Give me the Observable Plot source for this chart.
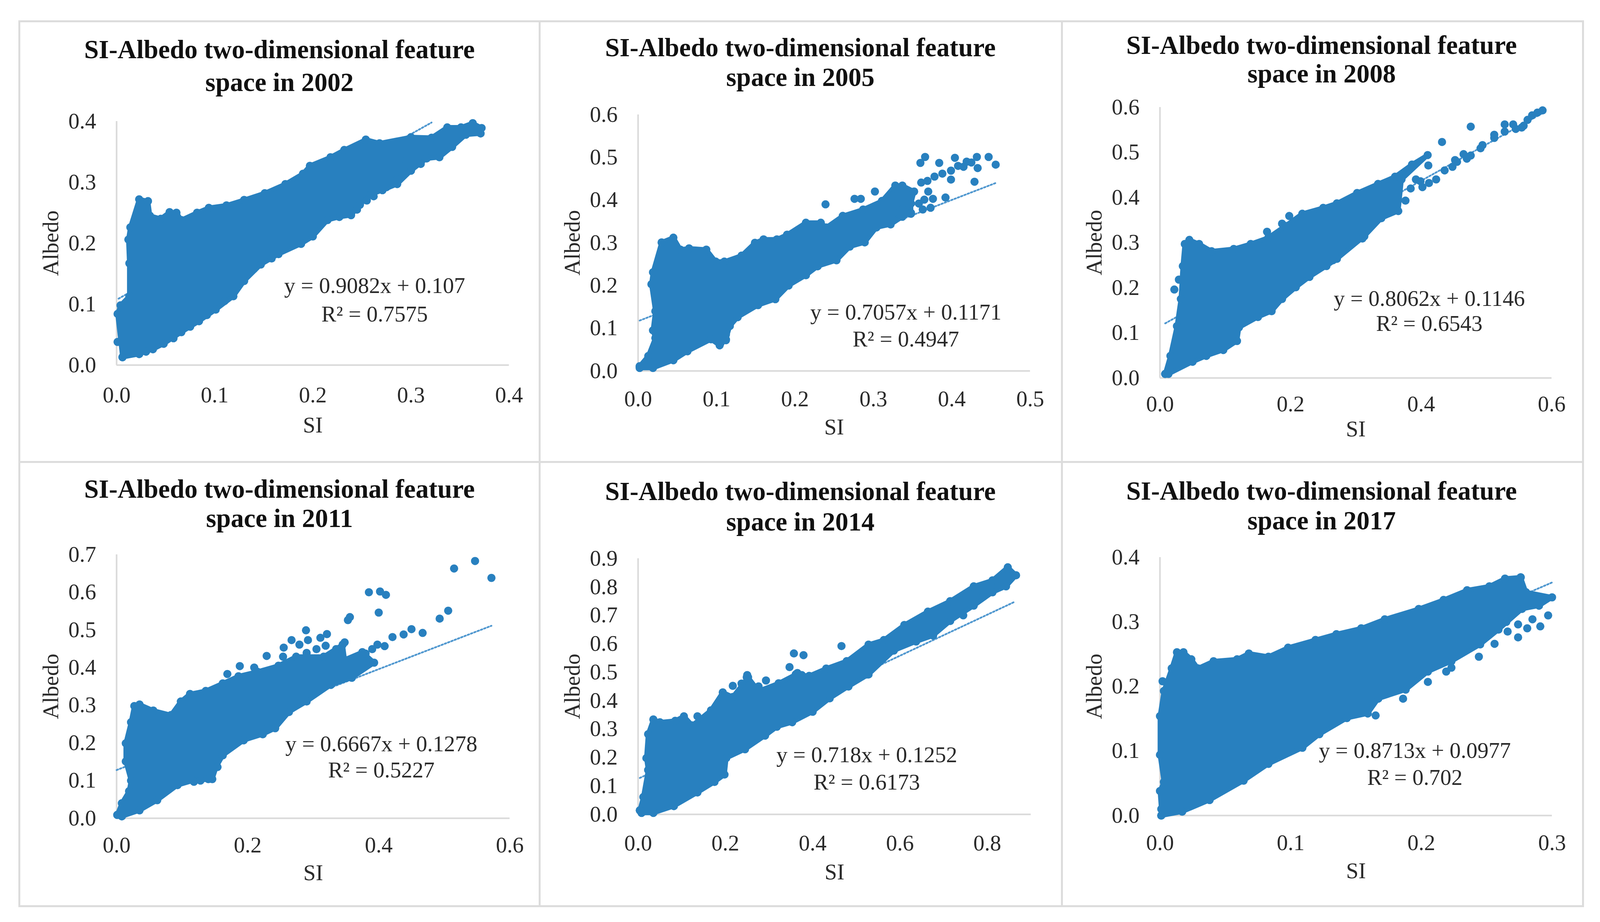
<!DOCTYPE html>
<html>
<head>
<meta charset="utf-8">
<script src="https://cdn.jsdelivr.net/npm/d3@7"></script>
<script src="https://cdn.jsdelivr.net/npm/@observablehq/plot@0.6"></script>
<style>
html,body{margin:0;padding:0;background:#fff;overflow:hidden;}
#page{position:relative;width:100vw;height:2360px;overflow:hidden;background:#fff;font-family:"Liberation Serif",serif;}
.frame{position:absolute;background:#dcdcdc;}
.title{position:absolute;transform:translateX(-50%);text-align:center;font-weight:bold;color:#111;white-space:nowrap;}
.panel{position:absolute;}
</style>
</head>
<body>
<div id="page"></div>
<script>
// ---------- Cloud outlines (SI, Albedo) and separate points ----------
const years = [2002, 2005, 2008, 2011, 2014, 2017];
const equations = ["y = 0.9082x + 0.107","y = 0.7057x + 0.1171","y = 0.8062x + 0.1146","y = 0.6667x + 0.1278","y = 0.718x + 0.1252","y = 0.8713x + 0.0977"];
const rSquared = ["R² = 0.7575","R² = 0.4947","R² = 0.6543","R² = 0.5227","R² = 0.6173","R² = 0.702"];

const si2002 = [.006,.001,.004,.013,.013,.012,.014,.023,.032,.034,.045,.054,.061,.066,.082,.094,.112,.13,.151,.172,.19,.197,.218,.232,.254,.268,.3,.321,.337,.351,.363,.372,.371,.356,.342,.329,.316,.3,.286,.271,.259,.248,.239,.227,.215,.2,.188,.165,.147,.13,.119,.101,.084,.066,.048,.037,.023,.006];
const albedo2002 = [.013,.084,.098,.113,.167,.206,.226,.272,.269,.245,.24,.251,.25,.238,.25,.258,.262,.271,.282,.297,.314,.327,.341,.353,.37,.364,.374,.373,.39,.39,.397,.389,.38,.378,.358,.341,.339,.319,.297,.287,.28,.263,.246,.243,.238,.211,.199,.182,.165,.138,.113,.091,.072,.054,.035,.026,.018,.013];
const outSi2002 = [.001,.3,.293,.286,.275,.188,.255,.245,.262,.31,.295,.158,.14,.11,.092,.075,.058,.03];
const outAlbedo2002 = [.038,.319,.313,.305,.292,.199,.27,.255,.277,.33,.335,.175,.158,.105,.082,.063,.044,.022];
const trendSi2002 = [.002,.321];
const trendAlbedo2002 = [.109,.398];

const si2005 = [.002,.013,.022,.019,.022,.017,.019,.03,.045,.054,.065,.087,.099,.11,.132,.149,.16,.177,.19,.214,.233,.24,.261,.287,.311,.328,.337,.352,.348,.348,.337,.322,.304,.289,.27,.253,.229,.214,.192,.175,.153,.127,.117,.112,.104,.093,.063,.045,.019,.002];
const albedo2005 = [.011,.035,.077,.095,.14,.203,.231,.301,.312,.284,.287,.284,.256,.256,.27,.3,.308,.308,.319,.347,.347,.336,.363,.378,.398,.434,.434,.42,.392,.37,.361,.343,.336,.301,.291,.259,.245,.224,.2,.168,.154,.126,.105,.074,.06,.074,.046,.025,.007,.007];
const outSi2005 = [.239,.276,.284,.302,.361,.369,.378,.388,.399,.408,.419,.432,.447,.456,.404,.384,.366,.36,.433,.429,.392,.376,.365,.358,.373,.363,.348,.37,.399,.324,.337,.326,.105,.112,.112,.415,.425];
const outAlbedo2005 = [.39,.403,.403,.42,.441,.445,.455,.462,.469,.48,.49,.501,.501,.483,.499,.487,.501,.487,.475,.443,.406,.403,.401,.392,.382,.378,.368,.42,.448,.41,.378,.371,.065,.072,.085,.478,.488];
const trendSi2005 = [.002,.456];
const trendAlbedo2005 = [.118,.44];

const si2008 = [.008,.016,.026,.032,.035,.038,.045,.06,.079,.113,.139,.166,.192,.218,.25,.271,.302,.334,.36,.386,.41,.37,.365,.339,.313,.271,.255,.229,.208,.187,.171,.15,.121,.118,.097,.071,.05,.013];
const albedo2008 = [.009,.049,.115,.175,.248,.297,.306,.297,.281,.286,.297,.311,.337,.364,.377,.387,.41,.43,.446,.473,.494,.44,.37,.354,.314,.264,.248,.224,.201,.175,.148,.135,.112,.082,.062,.049,.036,.009];
const outSi2008 = [.376,.402,.423,.436,.455,.47,.491,.512,.528,.557,.57,.586,.476,.432,.411,.022,.029,.164,.187,.198,.31,.265,.528,.541,.554,.512,.494,.476,.465,.452,.392,.399,.384,.578,.563,.545,.448,.412];
const outAlbedo2008 = [.393,.423,.44,.46,.479,.486,.509,.532,.546,.559,.582,.593,.557,.523,.471,.196,.218,.324,.342,.359,.309,.261,.562,.562,.555,.539,.516,.493,.496,.483,.44,.436,.42,.588,.572,.552,.468,.432];
const trendSi2008 = [.008,.586];
const trendAlbedo2008 = [.121,.587];

const si2011 = [.001,.008,.019,.022,.014,.014,.022,.027,.035,.056,.083,.098,.112,.136,.162,.186,.215,.247,.274,.316,.345,.348,.375,.393,.359,.327,.29,.263,.242,.223,.194,.162,.152,.146,.117,.093,.062,.035,.008];
const albedo2011 = [.009,.04,.072,.1,.151,.199,.255,.298,.302,.286,.274,.31,.33,.338,.358,.377,.389,.405,.429,.429,.461,.421,.441,.413,.373,.354,.31,.282,.239,.223,.207,.167,.136,.104,.1,.088,.048,.021,.005];
const outSi2011 = [.547,.515,.572,.385,.402,.411,.4,.356,.353,.506,.493,.467,.45,.438,.421,.409,.398,.39,.38,.289,.321,.311,.292,.267,.255,.279,.319,.348,.335,.305,.29,.254,.229,.188,.169,.21,.231,.223,.154,.118,.128,.14];
const outAlbedo2011 = [.683,.663,.638,.6,.602,.593,.546,.534,.526,.551,.53,.492,.502,.488,.481,.457,.461,.449,.437,.499,.489,.479,.473,.473,.453,.461,.458,.467,.449,.449,.439,.429,.431,.404,.383,.4,.239,.224,.136,.097,.1,.104];
const trendSi2011 = [0,.572];
const trendAlbedo2011 = [.128,.511];

const si2014 = [.004,.012,.023,.019,.023,.035,.05,.085,.105,.124,.167,.194,.217,.252,.276,.322,.361,.392,.431,.478,.528,.563,.61,.664,.715,.769,.812,.847,.866,.843,.812,.769,.715,.676,.637,.586,.528,.482,.439,.4,.353,.318,.291,.245,.202,.198,.175,.136,.082,.035,.008];
const albedo2014 = [.014,.061,.156,.198,.282,.334,.324,.329,.345,.313,.366,.429,.413,.482,.434,.461,.492,.487,.513,.539,.597,.613,.666,.713,.75,.802,.823,.869,.841,.802,.781,.734,.68,.629,.608,.576,.492,.45,.408,.361,.324,.308,.277,.229,.198,.14,.114,.077,.029,.005,.005];
const outSi2014 = [.466,.357,.379,.347,.365,.293,.276,.249,.217,.136,.439,.524,.482,.375,.25,.237,.745,.79];
const outAlbedo2014 = [.592,.566,.56,.518,.497,.471,.45,.482,.452,.345,.419,.492,.45,.49,.49,.46,.7,.765];
const trendSi2014 = [.004,.862];
const trendAlbedo2014 = [.128,.747];

const si2017 = [.001,.001,0,.003,0,0,.003,.009,.013,.018,.024,.029,.041,.059,.068,.083,.098,.119,.135,.154,.172,.198,.217,.235,.252,.264,.276,.28,.3,.29,.277,.259,.245,.223,.205,.188,.167,.159,.143,.122,.109,.083,.064,.038,.017];
const albedo2017 = [0,.01,.038,.052,.094,.154,.193,.228,.253,.253,.242,.228,.239,.242,.251,.246,.26,.272,.281,.29,.304,.32,.334,.349,.355,.367,.369,.346,.338,.325,.32,.288,.265,.239,.223,.195,.181,.158,.151,.126,.105,.08,.054,.024,.006];
const outSi2017 = [.002,.165,.186,.205,.219,.223,.244,.256,.266,.274,.274,.281,.285,.291,.297,.276,.265];
const outAlbedo2017 = [.208,.155,.181,.207,.223,.229,.246,.266,.285,.276,.296,.29,.304,.293,.31,.369,.3];
const trendSi2017 = [0,.3];
const trendAlbedo2017 = [.098,.361];

// ---------- Axis tick values and domains ----------
const xTicks = [[0,.1,.2,.3,.4],[0,.1,.2,.3,.4,.5],[0,.2,.4,.6],[0,.2,.4,.6],[0,.2,.4,.6,.8],[0,.1,.2,.3]];
const yTicks = [[0,.1,.2,.3,.4],[0,.1,.2,.3,.4,.5,.6],[0,.1,.2,.3,.4,.5,.6],[0,.1,.2,.3,.4,.5,.6,.7],[0,.1,.2,.3,.4,.5,.6,.7,.8,.9],[0,.1,.2,.3,.4]];
const xMax = [.4,.5,.6,.6,.9,.3];
const yMax = [.4,.6,.6,.7,.9,.4];

// Equation label anchors, in data units
const eqSi = [.263,.3415,.4125,.404,.524,.195];
const eqAlbedo = [.11,.1085,.15,.165,.166,.082];

// ---------- Layout of each panel. The reference is 4460 wide; the capture is narrower, so x is fitted to it ----------
const K = Math.min(1, window.innerWidth / 4460);
const layout = [
  {x0:324, x1:1418,y0:934, y1:310, tickX:55,labelX:153,titleX:779, titleY:84,  pitch:84, eqLead:73},
  {x0:1778,x1:2871,y0:949, y1:293, tickX:50,labelX:143,titleX:2231,titleY:83,  pitch:76, eqLead:69},
  {x0:3233,x1:4325,y0:967, y1:274, tickX:45,labelX:130,titleX:3684,titleY:79,  pitch:73, eqLead:64},
  {x0:324, x1:1420,y0:2094,y1:1419,tickX:47,labelX:139,titleX:779, titleY:1214,pitch:75, eqLead:67},
  {x0:1778,x1:2873,y0:2084,y1:1429,tickX:52,labelX:147,titleX:2231,titleY:1218,pitch:78, eqLead:70},
  {x0:3233,x1:4326,y0:2087,y1:1426,tickX:48,labelX:141,titleX:3684,titleY:1218,pitch:76, eqLead:69}
];

const series = [
  [si2002,albedo2002,outSi2002,outAlbedo2002,trendSi2002,trendAlbedo2002],
  [si2005,albedo2005,outSi2005,outAlbedo2005,trendSi2005,trendAlbedo2005],
  [si2008,albedo2008,outSi2008,outAlbedo2008,trendSi2008,trendAlbedo2008],
  [si2011,albedo2011,outSi2011,outAlbedo2011,trendSi2011,trendAlbedo2011],
  [si2014,albedo2014,outSi2014,outAlbedo2014,trendSi2014,trendAlbedo2014],
  [si2017,albedo2017,outSi2017,outAlbedo2017,trendSi2017,trendAlbedo2017]
];

const BLUE = "#2880bf", GREY = "#d9d9d9", INK = "#2a2a2a";
const FONT = Math.round(62 * K), TITLE = Math.round(73 * K);
const page = document.getElementById("page");
const zip = (a, b) => a.map((v, i) => ({x: v, y: b[i]}));

// panel frame
[[53,52,4361,5],[53,2317,4361,5],[53,1180,4361,5],[51,52,5,2270],[1502,52,5,2270],[2957,52,5,2270],[4410,52,5,2270]].forEach(([l,t,w,h])=>{
  const d=document.createElement("div");d.className="frame";
  d.style.cssText=`left:${l*K}px;top:${t}px;width:${w===4361?w*K:w}px;height:${h}px`;page.appendChild(d);
});

const mL = 260, mR = 110, mT = 60, mB = 210;
years.forEach((year, i) => {
  const L = layout[i];
  const x0 = L.x0 * K, x1 = L.x1 * K;
  const [sx, sy, ox, oy, tx, ty] = series[i];
  const outline = zip(sx, sy); outline.push(outline[0]);
  const plot = Plot.plot({
    width: x1 - x0 + mL + mR,
    height: L.y0 - L.y1 + mT + mB,
    marginLeft: mL, marginRight: mR, marginTop: mT, marginBottom: mB,
    x: {domain: [0, xMax[i]]},
    y: {domain: [0, yMax[i]]},
    style: {fontFamily: '"Liberation Serif", serif', background: "transparent", overflow: "visible", color: INK},
    marks: [
      Plot.ruleX([0], {stroke: GREY, strokeWidth: 4}),
      Plot.ruleY([0], {stroke: GREY, strokeWidth: 4}),
      Plot.line(zip(tx, ty), {x: "x", y: "y", stroke: "#4f97cf", strokeWidth: 4.5, strokeDasharray: "4 5"}),
      Plot.line(outline, {x: "x", y: "y", fill: BLUE, stroke: BLUE, strokeWidth: 12, strokeLinejoin: "round"}),
      Plot.dot(outline, {x: "x", y: "y", r: 10.5, fill: BLUE}),
      Plot.dot(zip(ox, oy), {x: "x", y: "y", r: 10.5, fill: BLUE}),
      Plot.axisX({ticks: xTicks[i], tickFormat: ".1f", tickSize: 0, tickPadding: L.tickX, fontSize: FONT, label: "SI", labelAnchor: "center", labelArrow: "none", labelOffset: L.labelX + 20}),
      Plot.axisY({ticks: yTicks[i], tickFormat: ".1f", tickSize: 0, tickPadding: 57 * K, fontSize: FONT, label: "Albedo", labelAnchor: "center", labelArrow: "none", labelOffset: 207 * K}),
      Plot.text([0], {x: () => eqSi[i], y: () => eqAlbedo[i], text: () => `${equations[i]}\n${rSquared[i]}`, fontSize: FONT, lineHeight: L.eqLead / FONT, fill: INK})
    ]
  });
  plot.classList.add("panel");
  plot.style.left = (x0 - mL) + "px";
  plot.style.top = (L.y1 - mT) + "px";
  page.appendChild(plot);

  const t = document.createElement("div");
  t.className = "title";
  t.style.left = (L.titleX * K) + "px";
  t.style.top = L.titleY + "px";
  t.style.fontSize = TITLE + "px";
  t.style.lineHeight = L.pitch + "px";
  t.innerHTML = `SI-Albedo two-dimensional feature<br>space in ${year}`;
  page.appendChild(t);
});
</script>
</body>
</html>
